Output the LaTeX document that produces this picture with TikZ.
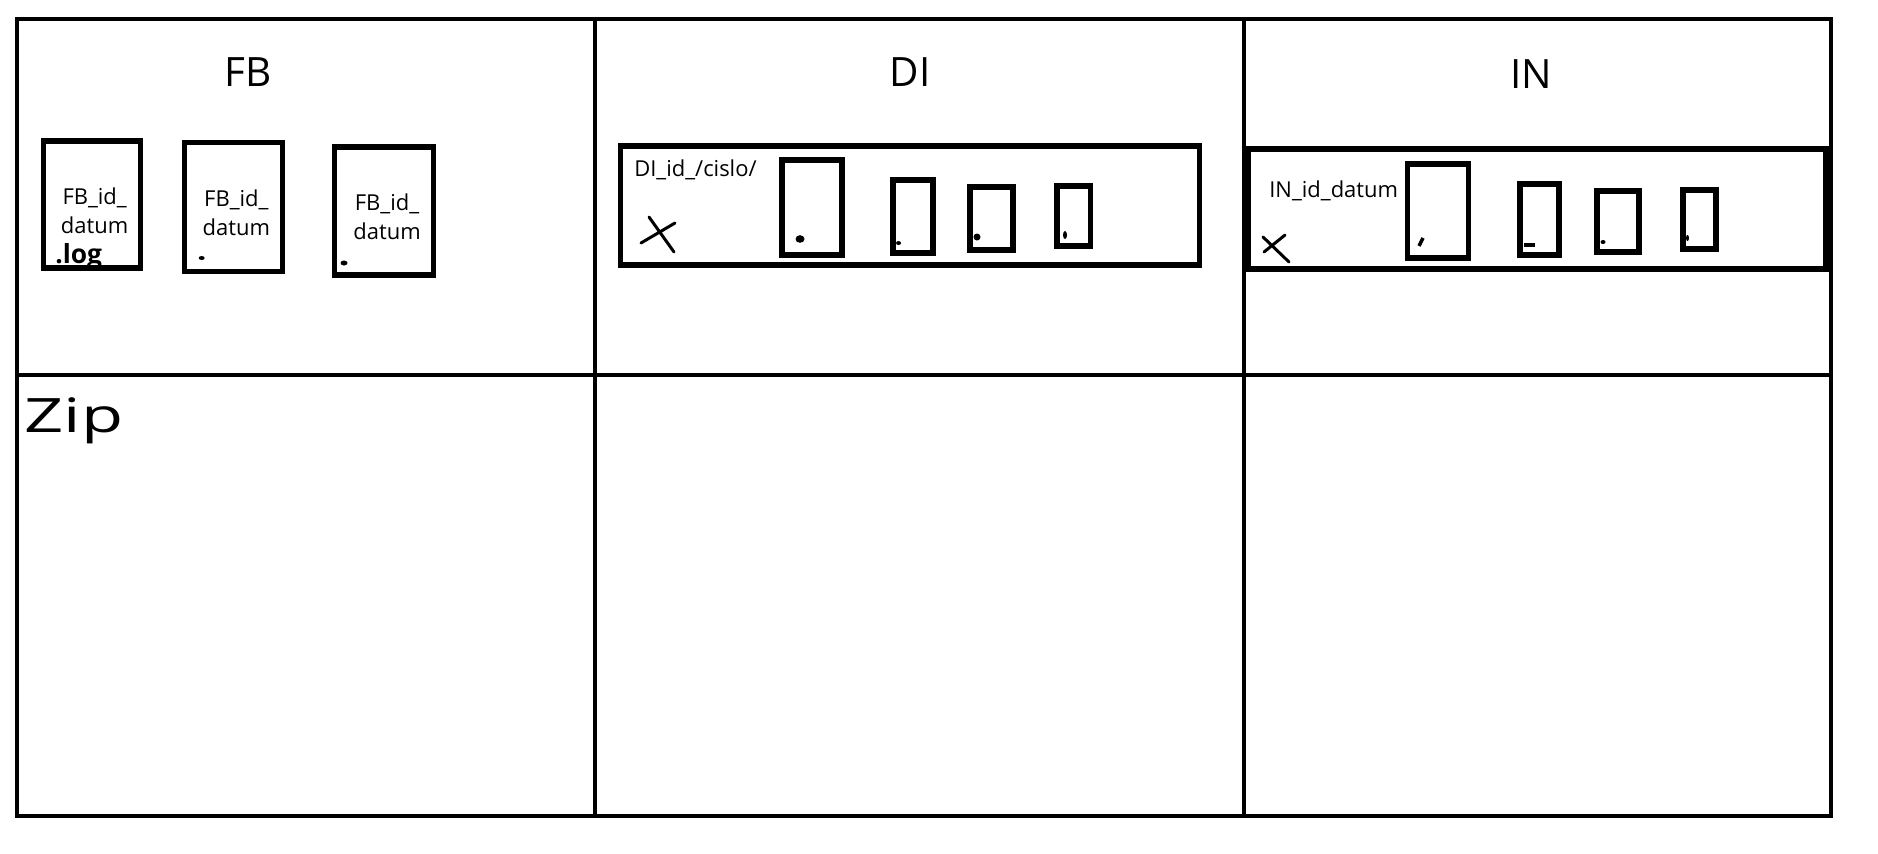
\documentclass[tikz,border=0pt]{standalone}
\usepackage{fontspec}
\setmainfont{Open Sans}
\usetikzlibrary{positioning}

\begin{document}
\begin{tikzpicture}[x=0.02cm,y=-0.02cm,
    cell/.style={line width=2.3pt},
    box/.style 2 args={draw,line width=2.9pt,inner sep=0pt,
      minimum width={#1*0.02cm},minimum height={#2*0.02cm}},
    headline/.style={font=\fontsize{23}{26}\selectfont},
    fname/.style={font=\fontsize{12.5}{16.5}\selectfont,align=center,inner sep=0pt},
    xmark/.style={line width=1.7pt,line cap=round}]
\useasboundingbox (0,0) rectangle (1878,853);
\draw[cell] (17,19) rectangle (1831,816);
\draw[cell] (595,19) -- (595,816) (1244,19) -- (1244,816) (17,375) -- (1831,375);

\node[headline] (fb) at (248,72) {FB};
\node[headline] (di) at (910,72.5) {DI};
\node[headline] (in) at (1531,74.5) {IN};

\foreach \n/\x/\y/\w/\h in {fb1/92/204.5/97/127,fb2/233.7/207/98/129,fb3/384.4/211/99/128}{
  \node[box={\w}{\h}] (\n) at (\x,\y) {};
  \node[fname] (\n-t) at ([xshift=1.5pt,yshift=-3.4pt]\n.center) {FB\_id\_\\datum};
}
\node[anchor=base west,inner sep=0pt,font=\bfseries\fontsize{15}{18}\selectfont] (log) at (55,263) {.log};
\fill (201.7,258) ellipse [x radius=3,y radius=2];
\fill (344,263) ellipse [x radius=3.5,y radius=2.5];

\node[box={579}{119}] (dip) at (910.4,205.5) {};
\node[fname,anchor=base west] (dit) at (634,176.7) {DI\_id\_/cislo/};
\draw[xmark] (649,217) -- (674,252) (641,243) -- (675,223);
\foreach \n/\x/\y/\w/\h in {d1/812/207.5/60/95,d2/913/216.5/40/73,d3/991.5/218.5/43/63,d4/1073.7/216/33.5/60}
  \node[box={\w}{\h}] (\n) at (\x,\y) {};
\fill (800,239) ellipse [x radius=4.5,y radius=3.8];
\fill (898.5,243) ellipse [x radius=2.5,y radius=2];
\fill (977,237) circle [radius=3.5];
\fill (1065,235) ellipse [x radius=2,y radius=4];

\node[box={578}{120}] (inp) at (1537,209) {};
\node[fname,anchor=base west] (int) at (1269,197) {IN\_id\_datum};
\draw[xmark] (1263,237) -- (1289,262) (1264,252) -- (1285,235);
\foreach \n/\x/\y/\w/\h in {i1/1438/211/61/94,i2/1539.5/219.5/39/71,i3/1618/221.5/42/61,i4/1699.5/219.5/33/59}
  \node[box={\w}{\h}] (\n) at (\x,\y) {};
\draw[line width=2pt] (1419,246) -- (1423,238);
\draw[line width=2pt] (1524,245) -- (1535,245);
\fill (1603,242) ellipse [x radius=2.5,y radius=2];
\fill (1687.5,238) ellipse [x radius=1.5,y radius=3];

\node[anchor=base west,inner sep=0pt,font=\fontsize{27}{30}\selectfont] (zip) at (24,432) {\scalebox{1.45}[1]{Zip}};
\end{tikzpicture}
\end{document}
